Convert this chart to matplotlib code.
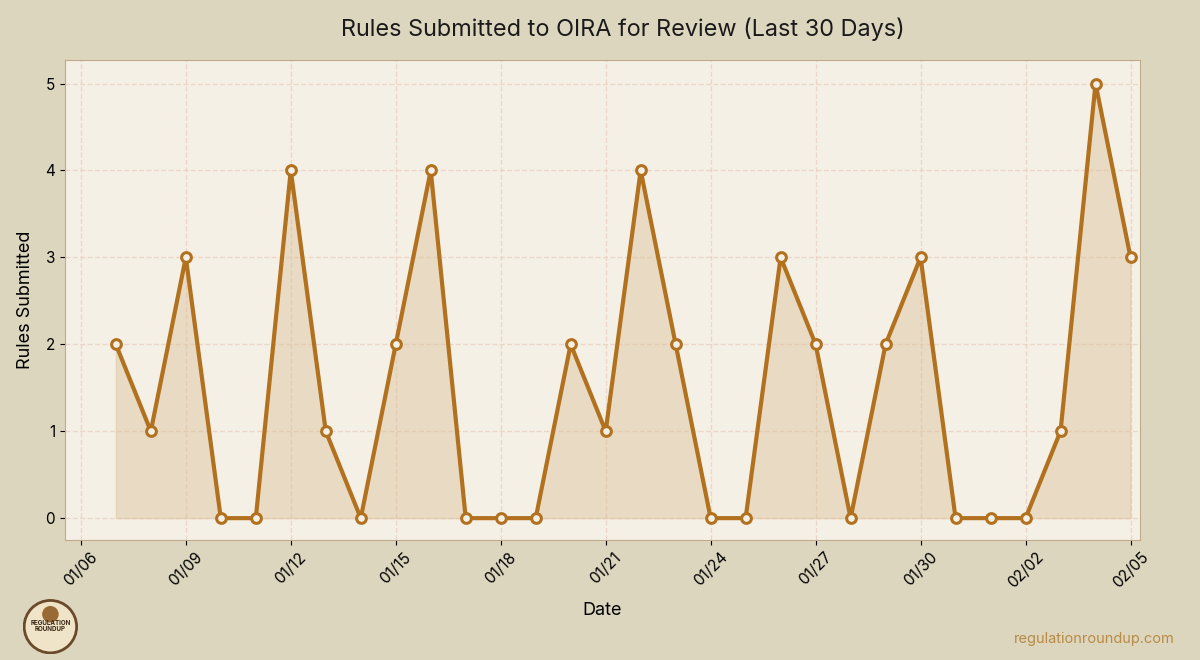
import matplotlib.pyplot as plt
import matplotlib.dates as mdates
import pandas as pd
from matplotlib.patches import Circle

plt.rcParams['font.family'] = ['Inter', 'DejaVu Sans']

# Data
dates = pd.date_range('2025-01-07', '2025-02-05', freq='D')
rules = [2, 1, 3, 0, 0, 4, 1, 0, 2, 4,
         0, 0, 0, 2, 1, 4, 2, 0, 0, 3,
         2, 0, 2, 3, 0, 0, 0, 1, 5, 3]
tick_dates = pd.date_range('2025-01-06', '2025-02-05', freq='3D')

bg = '#ddd6bf'
panel = '#f5f0e6'
line_c = '#b1711f'

fig = plt.figure(figsize=(12, 6.6), dpi=100, facecolor=bg)
ax = fig.add_axes([0.054, 0.182, 0.896, 0.727])
ax.set_facecolor(panel)

ax.fill_between(dates, rules, 0, color='#dcc29a', alpha=0.45, zorder=2)
ax.plot(dates, rules, color=line_c, linewidth=3, marker='o', markersize=7,
        markerfacecolor=panel, markeredgecolor=line_c, markeredgewidth=2.2, zorder=3)

fig.text(0.519, 0.955, 'Rules Submitted to OIRA for Review (Last 30 Days)',
         fontsize=16.9, ha='center', va='center', color='#1a1a1a')
ax.set_xlabel('Date', fontsize=13, labelpad=8)
ax.set_ylabel('Rules Submitted', fontsize=13, labelpad=8)

ax.set_xticks(tick_dates)
ax.xaxis.set_major_formatter(mdates.DateFormatter('%m/%d'))
plt.setp(ax.get_xticklabels(), rotation=45, fontsize=11)
ax.tick_params(axis='y', labelsize=11)

ax.set_xlim(tick_dates[0] - pd.Timedelta(hours=11), dates[-1] + pd.Timedelta(hours=6.5))
ax.set_ylim(-0.25, 5.27)
ax.set_yticks([0, 1, 2, 3, 4, 5])

ax.grid(True, linestyle='--', color='#ecd3c6', linewidth=1, alpha=0.9, zorder=0)
ax.set_axisbelow(True)
for s in ax.spines.values():
    s.set_color('#c2a98a')

# footer
fig.text(0.979, 0.025, 'regulationroundup.com', color='#b98a45', fontsize=10.5, ha='right')
logo = fig.add_axes([0.019, 0.008, 0.046, 0.085])
logo.set_xlim(-1, 1)
logo.set_ylim(-1, 1)
logo.set_aspect('equal')
logo.axis('off')
logo.add_patch(Circle((0, 0), 0.95, facecolor='#efe3c8', edgecolor='#6b4a2b', linewidth=2))
logo.add_patch(Circle((0, 0.45), 0.3, facecolor='#9a6a35', edgecolor='none'))
logo.text(0, 0.02, 'REGULATION\nROUNDUP', ha='center', va='center', fontsize=4.5,
          fontweight='bold', color='#3b2a1a', linespacing=0.9)

plt.savefig('out.png', dpi=100, facecolor=bg)
